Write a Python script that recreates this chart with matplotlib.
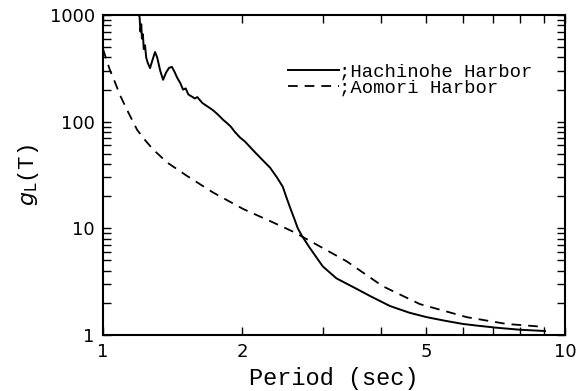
import matplotlib
matplotlib.use("Agg")
import matplotlib.pyplot as plt
from matplotlib.ticker import LogLocator, FixedLocator, FixedFormatter, NullFormatter

plt.rcParams['lines.scale_dashes'] = False

# Hachinohe Harbor (solid)
T_hachinohe = [1.19, 1.20, 1.205, 1.21, 1.214, 1.22, 1.225, 1.233, 1.24, 1.25, 1.264,
               1.28, 1.296, 1.31, 1.33, 1.349, 1.37, 1.39, 1.41, 1.43, 1.446, 1.47,
               1.49, 1.51, 1.53, 1.557, 1.58, 1.60, 1.64, 1.67, 1.70, 1.73, 1.76,
               1.79, 1.82, 1.855, 1.89, 1.93, 1.98, 2.03, 2.08, 2.13, 2.20, 2.30,
               2.38, 2.45, 2.50, 2.54, 2.60, 2.64, 2.70, 2.80, 2.99, 3.20, 3.55,
               3.80, 4.18, 4.60, 5.02, 5.50, 6.01, 6.50, 7.12, 8.00, 9.05]
g_hachinohe = [1100, 950, 700, 820, 600, 660, 480, 520, 400, 355, 318,
               380, 450, 400, 300, 247, 290, 320, 326, 290, 260, 230,
               200, 205, 180, 172, 165, 170, 150, 142, 135, 128, 120,
               112, 104, 97, 90, 80, 71, 65, 58, 52, 45, 37,
               30, 24.5, 19, 15.7, 12, 10, 8.4, 6.6, 4.4, 3.4, 2.69,
               2.3, 1.87, 1.62, 1.47, 1.36, 1.27, 1.22, 1.17, 1.12, 1.09]

# Aomori Harbor (dashed)
T_aomori = [1.0, 1.01, 1.035, 1.061, 1.09, 1.127, 1.185, 1.23, 1.283, 1.375, 1.52,
            1.73, 2.01, 2.33, 2.58, 2.84, 3.37, 4.03, 4.85, 6.13, 7.47, 9.05]
g_aomori = [480, 420, 305, 235, 175, 129, 84, 68, 55, 41.6, 31,
            21.7, 15.2, 11.4, 9.3, 7.4, 4.9, 2.87, 1.95, 1.47, 1.27, 1.19]

x_ticks = [1, 2, 5, 10]
x_ticklabels = ["1", "2", "5", "10"]
y_ticks = [1, 10, 100, 1000]
y_ticklabels = ["1", "10", "100", "1000"]

mono = "Liberation Mono"

fig = plt.figure(figsize=(5.87, 3.91), dpi=100)
ax = fig.add_axes([0.1755, 0.1432, 0.787, 0.8184])

ax.plot(T_hachinohe, g_hachinohe, color="black", lw=1.4, label=";Hachinohe Harbor")
ax.plot(T_aomori, g_aomori, color="black", lw=1.3, dashes=(7, 5), label=";Aomori Harbor")

ax.set_xscale("log")
ax.set_yscale("log")
ax.set_xlim(1, 10)
ax.set_ylim(1, 1000)

ax.xaxis.set_major_locator(FixedLocator(x_ticks))
ax.xaxis.set_major_formatter(FixedFormatter(x_ticklabels))
ax.xaxis.set_minor_locator(LogLocator(base=10, subs=[3, 4, 6, 7, 8, 9]))
ax.xaxis.set_minor_formatter(NullFormatter())
ax.yaxis.set_major_locator(FixedLocator(y_ticks))
ax.yaxis.set_major_formatter(FixedFormatter(y_ticklabels))
ax.yaxis.set_minor_locator(LogLocator(base=10, subs=range(2, 10)))
ax.yaxis.set_minor_formatter(NullFormatter())

ax.tick_params(which="both", direction="in", top=True, right=True, width=1.0, color="black")
ax.tick_params(which="major", length=6)
ax.tick_params(which="minor", length=5.5)
ax.tick_params(axis="both", which="major", labelsize=13, pad=6)
for lbl in ax.get_xticklabels() + ax.get_yticklabels():
    lbl.set_family("DejaVu Sans")

for s in ax.spines.values():
    s.set_linewidth(1.5)

ax.set_xlabel("Period (sec)", family=mono, fontsize=17, labelpad=4)
ax.set_ylabel(r"$g_{\mathrm{L}}$(T)", family=mono, fontsize=16, labelpad=6)

leg = ax.legend(loc="upper right", bbox_to_anchor=(0.93, 0.85), frameon=False,
                prop={"family": mono, "size": 13.6}, handlelength=2.7,
                handletextpad=0.0, labelspacing=-0.02, borderpad=0, borderaxespad=0)

fig.savefig("out.png", dpi=100, facecolor="white")
